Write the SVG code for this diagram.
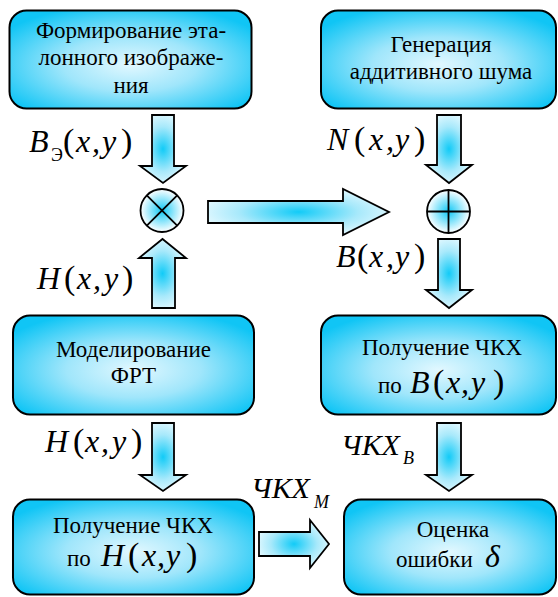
<svg xmlns="http://www.w3.org/2000/svg" width="558" height="597" viewBox="0 0 558 597">
<defs>
<radialGradient id="gBox" cx="50%" cy="55%" r="62%">
<stop offset="0" stop-color="#E2F8FF"/>
<stop offset="0.45" stop-color="#A0E6FB"/>
<stop offset="1" stop-color="#10C5F5"/>
</radialGradient>
<radialGradient id="gArr" cx="50%" cy="50%" r="55%">
<stop offset="0" stop-color="#12CBF7"/>
<stop offset="0.6" stop-color="#A8E9FB"/>
<stop offset="1" stop-color="#E4F9FF"/>
</radialGradient>
<radialGradient id="gCirc" cx="50%" cy="50%" r="50%">
<stop offset="0" stop-color="#12C9F6"/>
<stop offset="1" stop-color="#FFFFFF"/>
</radialGradient>
<style>
.box{fill:url(#gBox);stroke:#000;stroke-width:2}
.arr{fill:url(#gArr);stroke:#000;stroke-width:1.8;stroke-linejoin:miter}
.circ{fill:url(#gCirc);stroke:#000;stroke-width:1.8}
.ln{stroke:#000;stroke-width:1.8}
text{font-family:"Liberation Serif","Times New Roman",serif;fill:#000}
.t{font-size:23px;text-anchor:middle}
.ts{font-size:23px}
.mi{font-size:32px;font-style:italic}
.pa{font-size:34px;font-style:normal}
.sb{font-size:18px;font-style:italic}
.su{font-size:18px;font-style:normal}
.ck{font-size:30px;font-style:italic}
</style>
</defs>

<g id="node-reference">
<rect class="box" x="9.5" y="10.5" width="242" height="98" rx="17"/>
<text class="t" x="131" y="38">Формирование эта-</text>
<text class="t" x="131" y="65">лонного изображе-</text>
<text class="t" x="131" y="93">ния</text>
</g>

<g id="node-noise">
<rect class="box" x="321" y="10.5" width="235" height="98" rx="17"/>
<text class="t" x="441" y="52">Генерация</text>
<text class="t" x="441" y="79">аддитивного шума</text>
</g>

<g id="node-multiply">
<circle class="circ" cx="162" cy="210.5" r="21.5"/>
<line class="ln" x1="146.8" y1="195.3" x2="177.2" y2="225.7"/>
<line class="ln" x1="177.2" y1="195.3" x2="146.8" y2="225.7"/>
</g>

<g id="node-add">
<circle class="circ" cx="448.5" cy="211.5" r="21.5"/>
<line class="ln" x1="427" y1="211.5" x2="470" y2="211.5"/>
<line class="ln" x1="448.5" y1="190" x2="448.5" y2="233"/>
</g>

<g id="node-psf">
<rect class="box" x="13" y="315.5" width="241" height="99" rx="17"/>
<text class="t" x="133.5" y="357">Моделирование</text>
<text class="t" x="133.5" y="383">ФРТ</text>
</g>

<g id="node-ftf-b">
<rect class="box" x="321" y="315.5" width="235" height="99" rx="17"/>
<text class="t" x="442" y="355">Получение ЧКХ</text>
<text class="ts" y="393"><tspan x="378">по</tspan><tspan class="mi" x="410">B</tspan><tspan class="pa" x="433">(</tspan><tspan class="mi" x="446">x</tspan><tspan class="mi" x="461">,</tspan><tspan class="mi" x="471">y</tspan><tspan class="pa" x="493">)</tspan></text>
</g>

<g id="node-ftf-h">
<rect class="box" x="13" y="499.5" width="241" height="95" rx="17"/>
<text class="t" x="133" y="533">Получение ЧКХ</text>
<text class="ts" y="566"><tspan x="67">по</tspan><tspan class="mi" x="101">H</tspan><tspan class="pa" x="128">(</tspan><tspan class="mi" x="142">x</tspan><tspan class="mi" x="157">,</tspan><tspan class="mi" x="166">y</tspan><tspan class="pa" x="186">)</tspan></text>
</g>

<g id="node-error">
<rect class="box" x="344" y="499.5" width="212" height="95" rx="17"/>
<text class="t" x="453" y="537">Оценка</text>
<text class="ts" y="567"><tspan x="396">ошибки</tspan><tspan class="mi" x="485">δ</tspan></text>
</g>

<g id="connectors">
<polygon class="arr" points="152,115 174,115 174,166 186,166 163,183 140,166 152,166"/>
<polygon class="arr" points="152,308 175,308 175,258 186,258 162.5,239 139,258 152,258"/>
<polygon class="arr" points="208,201 343,201 343,189 389,212 343,235 343,223 208,223"/>
<polygon class="arr" points="437,115 461,115 461,165 472,165 449,183 426,165 437,165"/>
<polygon class="arr" points="438,239 460,239 460,290 472,290 449,308 426,290 438,290"/>
<polygon class="arr" points="152,423 174,423 174,475 186,475 163,491 140,475 152,475"/>
<polygon class="arr" points="437,423 461,423 461,475 472,475 449,491 426,475 437,475"/>
<polygon class="arr" points="259,532 310,532 310,520 329,544 310,568 310,556 259,556"/>
</g>

<g id="labels">
<text y="152"><tspan class="mi" x="29">B</tspan><tspan class="su" x="51" y="161">Э</tspan><tspan class="pa" x="63" y="152">(</tspan><tspan class="mi" x="76">x</tspan><tspan class="mi" x="92">,</tspan><tspan class="mi" x="102">y</tspan><tspan class="pa" x="121">)</tspan></text>

<text y="150"><tspan class="mi" x="327">N</tspan><tspan class="pa" x="354">(</tspan><tspan class="mi" x="369">x</tspan><tspan class="mi" x="386">,</tspan><tspan class="mi" x="395">y</tspan><tspan class="pa" x="414">)</tspan></text>

<text y="289"><tspan class="mi" x="37">H</tspan><tspan class="pa" x="64">(</tspan><tspan class="mi" x="77">x</tspan><tspan class="mi" x="93">,</tspan><tspan class="mi" x="104">y</tspan><tspan class="pa" x="122">)</tspan></text>

<text y="267"><tspan class="mi" x="336">B</tspan><tspan class="pa" x="357">(</tspan><tspan class="mi" x="369">x</tspan><tspan class="mi" x="386">,</tspan><tspan class="mi" x="395">y</tspan><tspan class="pa" x="414">)</tspan></text>

<text y="452"><tspan class="mi" x="45">H</tspan><tspan class="pa" x="73">(</tspan><tspan class="mi" x="85">x</tspan><tspan class="mi" x="101">,</tspan><tspan class="mi" x="112">y</tspan><tspan class="pa" x="131">)</tspan></text>

<text y="455"><tspan class="ck" x="341">ЧКХ</tspan><tspan class="sb" x="403" y="464">B</tspan></text>

<text y="498"><tspan class="ck" x="251">ЧКХ</tspan><tspan class="sb" x="314" y="508">M</tspan></text>
</g>
</svg>
